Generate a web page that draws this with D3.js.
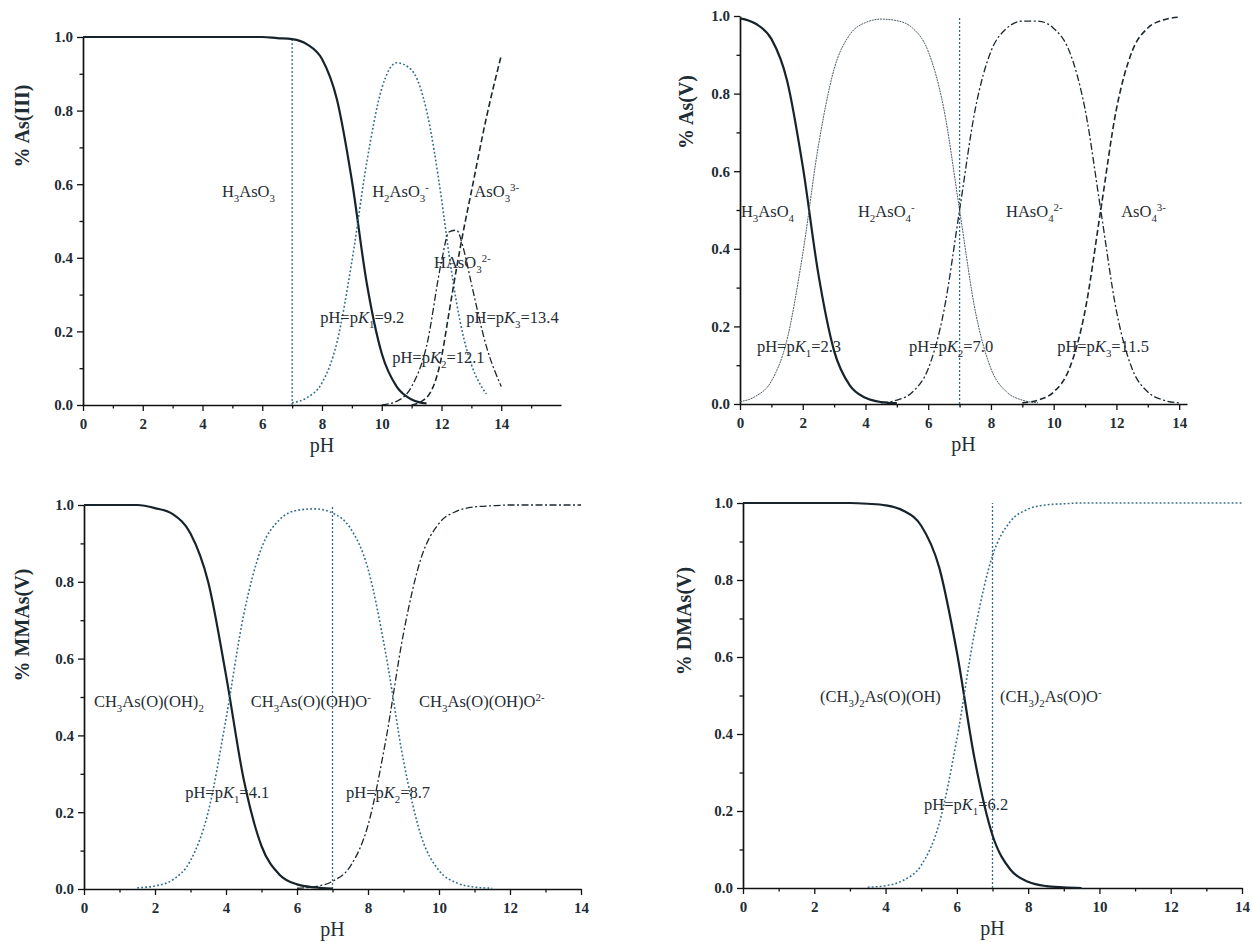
<!DOCTYPE html>
<html>
<head>
<meta charset="utf-8">
<script src="https://cdn.jsdelivr.net/npm/d3@7"></script>
<style>
  body { margin: 0; background: #fff; }
  text { font-family: "Liberation Serif", "Times New Roman", serif; fill: #1f2d35; }
</style>
</head>
<body>
<svg id="chart" width="1252" height="942"></svg>
<script>
// ---- data ----

// As(III)
const ph1 = [0, 2, 4, 6, 6.5, 7, 7.5, 8, 8.5, 9, 9.5, 10, 10.5, 11, 11.5, 12, 12.25, 12.5, 12.75, 13, 13.5, 14];
const asIII_H3AsO3 = [1, 1, 1, 1, 0.997, 0.994, 0.98, 0.94, 0.83, 0.61, 0.33, 0.14, 0.05, 0.015, 0.004, null, null, null, null, null, null, null];
const asIII_H2AsO3 = [null, null, null, null, null, 0.006, 0.02, 0.06, 0.17, 0.39, 0.66, 0.86, 0.93, 0.91, 0.80, 0.56, 0.41, 0.28, 0.18, 0.11, 0.03, null];
const asIII_HAsO3 = [null, null, null, null, null, null, null, null, null, null, null, 0.0, 0.01, 0.05, 0.16, 0.39, 0.47, 0.475, 0.42, 0.33, 0.16, 0.05];
const asIII_AsO3 = [null, null, null, null, null, null, null, null, null, null, null, null, null, 0.0, 0.02, 0.13, 0.25, 0.37, 0.48, 0.58, 0.78, 0.95];

// shared pH grid for the other three panels
const phGrid = [0, 0.5, 1, 1.5, 2, 2.5, 3, 3.5, 4, 4.5, 5, 5.5, 6, 6.5, 7, 7.5, 8, 8.5, 9, 9.5, 10, 10.5, 11, 11.5, 12, 12.5, 13, 13.5, 14];

// As(V)
const asV_H3AsO4 = [0.994, 0.98, 0.941, 0.834, 0.613, 0.334, 0.137, 0.048, 0.016, 0.005, 0.002, null, null, null, null, null, null, null, null, null, null, null, null, null, null, null, null, null, null];
const asV_H2AsO4 = [0.006, 0.02, 0.059, 0.166, 0.387, 0.666, 0.863, 0.952, 0.983, 0.992, 0.988, 0.969, 0.909, 0.76, 0.5, 0.24, 0.091, 0.031, 0.01, 0.003, null, null, null, null, null, null, null, null, null];
const asV_HAsO4 = [null, null, null, null, null, null, null, null, null, 0.003, 0.01, 0.031, 0.091, 0.24, 0.5, 0.76, 0.909, 0.968, 0.987, 0.987, 0.968, 0.909, 0.76, 0.5, 0.24, 0.091, 0.031, 0.01, 0.003];
const asV_AsO4 = [null, null, null, null, null, null, null, null, null, null, null, null, null, null, null, null, null, null, 0.003, 0.01, 0.031, 0.091, 0.24, 0.5, 0.76, 0.909, 0.969, 0.99, 0.997];

// MMAs(V)
const mmas_H2A = [1, 1, 1, 1, 0.992, 0.976, 0.926, 0.799, 0.557, 0.285, 0.112, 0.038, 0.012, 0.004, 0.001, null, null, null, null, null, null, null, null, null, null, null, null, null, null];
const mmas_HA = [null, null, null, 0.003, 0.008, 0.024, 0.074, 0.201, 0.443, 0.715, 0.888, 0.961, 0.986, 0.99, 0.979, 0.94, 0.834, 0.613, 0.334, 0.137, 0.048, 0.016, 0.005, 0.002, null, null, null, null, null];
const mmas_A = [null, null, null, null, null, null, null, null, null, null, null, null, 0.002, 0.006, 0.02, 0.059, 0.166, 0.387, 0.666, 0.863, 0.952, 0.984, 0.995, 0.998, 1, 1, 1, 1, 1];

// DMAs(V)
const dmas_HA = [1, 1, 1, 1, 1, 1, 1, 0.998, 0.994, 0.98, 0.941, 0.834, 0.613, 0.334, 0.137, 0.048, 0.016, 0.005, 0.002, 0, null, null, null, null, null, null, null, null, null];
const dmas_A = [null, null, null, null, null, null, null, 0.002, 0.006, 0.02, 0.059, 0.166, 0.387, 0.666, 0.863, 0.952, 0.984, 0.995, 0.998, 1, 1, 1, 1, 1, 1, 1, 1, 1, 1];

const refPH = 7; // dotted vertical line in every panel
const xTicks = [0, 2, 4, 6, 8, 10, 12, 14];
const yTicks = [0, 0.2, 0.4, 0.6, 0.8, 1.0];
const yMinor = [0.1, 0.3, 0.5, 0.7, 0.9];

// species labels: text, pH, fraction (baseline-left)
const notes1 = [
  ['H_{3}AsO_{3}', 4.65, 0.565], ['H_{2}AsO_{3}^{-}', 9.68, 0.565], ['AsO_{3}^{3-}', 13.1, 0.565],
  ['HAsO_{3}^{2-}', 11.75, 0.372],
  ['pH=p~{K}_{1}=9.2', 7.94, 0.223], ['pH=p~{K}_{3}=13.4', 12.83, 0.223], ['pH=p~{K}_{2}=12.1', 10.35, 0.114]
];
const notes2 = [
  ['H_{3}AsO_{4}', 0.03, 0.482], ['H_{2}AsO_{4}^{-}', 3.76, 0.482], ['HAsO_{4}^{2-}', 8.48, 0.482], ['AsO_{4}^{3-}', 12.15, 0.482],
  ['pH=p~{K}_{1}=2.3', 0.54, 0.134], ['pH=p~{K}_{2}=7.0', 5.39, 0.134], ['pH=p~{K}_{3}=11.5', 10.11, 0.134]
];
const notes3 = [
  ['CH_{3}As(O)(OH)_{2}', 0.28, 0.474], ['CH_{3}As(O)(OH)O^{-}', 4.7, 0.474], ['CH_{3}As(O)(OH)O^{2-}', 9.44, 0.474],
  ['pH=p~{K}_{1}=4.1', 2.85, 0.237], ['pH=p~{K}_{2}=8.7', 7.38, 0.237]
];
const notes4 = [
  ['(CH_{3})_{2}As(O)(OH)', 2.16, 0.483], ['(CH_{3})_{2}As(O)O^{-}', 7.21, 0.483],
  ['pH=p~{K}_{1}=6.2', 5.08, 0.203]
];

// ---- styles ----
const styles = {
  solid:   { stroke: '#17232a', width: 2.2, dash: null },
  dot:     { stroke: '#2e6c8b', width: 1.6, dash: '1.8,2.2' },
  thin:    { stroke: '#4c5c66', width: 1.0, dash: '2,0.8' },
  dash:    { stroke: '#1c282e', width: 1.6, dash: '6,3' },
  dashdot: { stroke: '#1c282e', width: 1.3, dash: '7,2.5,2,2.5' }
};

const panels = [
  { ph: ph1, left: 83, right: 561, top: 37, bottom: 405, xMax: 16, minorMax: 15,
    yTitle: '% As(III)', yTitlePos: [22, 126], notes: notes1,
    series: [[asIII_H3AsO3, 'solid'], [asIII_H2AsO3, 'dot'], [asIII_HAsO3, 'dashdot'], [asIII_AsO3, 'dash']] },
  { ph: phGrid, left: 740, right: 1187, top: 16, bottom: 404, xMax: 14.25, minorMax: 13,
    yTitle: '% As(V)', yTitlePos: [686, 112], notes: notes2,
    series: [[asV_H3AsO4, 'solid'], [asV_H2AsO4, 'thin'], [asV_HAsO4, 'dashdot'], [asV_AsO4, 'dash']] },
  { ph: phGrid, left: 84, right: 581, top: 505, bottom: 889, xMax: 14, minorMax: 13,
    yTitle: '% MMAs(V)', yTitlePos: [22, 625], notes: notes3,
    series: [[mmas_H2A, 'solid'], [mmas_HA, 'dot'], [mmas_A, 'dashdot']] },
  { ph: phGrid, left: 743, right: 1242, top: 503, bottom: 888, xMax: 14, minorMax: 13,
    yTitle: '% DMAs(V)', yTitlePos: [684, 621], notes: notes4,
    series: [[dmas_HA, 'solid'], [dmas_A, 'dot']] }
];

const svg = d3.select('#chart');
svg.append('rect').attr('width', 1252).attr('height', 942).attr('fill', '#fff');

// write a label with sub/superscripts: _{..} sub, ^{..} sup, ~{..} italic
function richText(textSel, str, fs) {
  const parts = str.match(/_\{[^}]*\}|\^\{[^}]*\}|~\{[^}]*\}|[^_^~]+/g);
  let cur = 0;
  parts.forEach(p => {
    let kind = '', t = p;
    if (p[0] === '_' || p[0] === '^' || p[0] === '~') { kind = p[0]; t = p.slice(2, -1); }
    const target = kind === '_' ? fs * 0.32 : kind === '^' ? -fs * 0.38 : 0;
    const ts = textSel.append('tspan').text(t).attr('dy', target - cur);
    if (kind === '_' || kind === '^') ts.attr('font-size', fs * 0.66);
    if (kind === '~') ts.attr('font-style', 'italic');
    cur = target;
  });
}

panels.forEach(p => {
  const g = svg.append('g');
  const x = d3.scaleLinear().domain([0, p.xMax]).range([p.left, p.right]);
  const y = d3.scaleLinear().domain([0, 1]).range([p.bottom, p.top]);

  const xMinor = d3.range(1, p.minorMax + 1, 2);

  // minor ticks
  g.append('g').attr('transform', `translate(0,${p.bottom})`)
    .call(d3.axisBottom(x).tickValues(xMinor).tickSize(3.5).tickFormat('').tickSizeOuter(0))
    .call(a => a.select('.domain').remove());
  g.append('g').attr('transform', `translate(${p.left},0)`)
    .call(d3.axisLeft(y).tickValues(yMinor).tickSize(3.5).tickFormat('').tickSizeOuter(0))
    .call(a => a.select('.domain').remove());

  // major axes
  const xa = g.append('g').attr('transform', `translate(0,${p.bottom})`)
    .call(d3.axisBottom(x).tickValues(xTicks).tickSize(6).tickSizeOuter(0).tickFormat(d3.format('d')));
  const ya = g.append('g').attr('transform', `translate(${p.left},0)`)
    .call(d3.axisLeft(y).tickValues(yTicks).tickSize(6).tickPadding(4).tickSizeOuter(0).tickFormat(d3.format('.1f')));

  xa.selectAll('.tick text').attr('y', 24).attr('dy', 0);
  [xa, ya].forEach(a => {
    a.select('.domain').attr('stroke', '#111').attr('stroke-width', 1.7);
    a.selectAll('.tick text').attr('font-size', 15).attr('font-weight', 'bold')
      .attr('font-family', '"Liberation Serif", serif').attr('fill', '#1f2d35');
  });
  g.selectAll('.tick line').attr('stroke', '#111').attr('stroke-width', 1.3);

  // reference line at pH 7
  g.append('line')
    .attr('x1', x(refPH)).attr('x2', x(refPH))
    .attr('y1', y(0)).attr('y2', y(1))
    .attr('stroke', '#2e6c8b').attr('stroke-width', 1.3).attr('stroke-dasharray', '2,2');

  // species curves
  const line = d3.line()
    .defined(d => d[1] != null)
    .x(d => x(d[0])).y(d => y(d[1]))
    .curve(d3.curveMonotoneX);

  p.series.forEach(([vals, sty]) => {
    const s = styles[sty];
    const pts = p.ph.map((ph, i) => [ph, vals[i]]);
    g.append('path').datum(pts)
      .attr('d', line)
      .attr('fill', 'none')
      .attr('stroke', s.stroke)
      .attr('stroke-width', s.width)
      .attr('stroke-dasharray', s.dash);
  });

  // labels
  p.notes.forEach(([t, ph, v]) => {
    const tx = g.append('text').attr('x', x(ph)).attr('y', y(v)).attr('font-size', 16.5);
    richText(tx, t, 16.5);
  });

  // axis titles
  g.append('text')
    .attr('x', (p.left + p.right) / 2).attr('y', p.bottom + 47)
    .attr('text-anchor', 'middle').attr('font-size', 20)
    .text('pH');
  g.append('text')
    .attr('transform', `translate(${p.yTitlePos[0]},${p.yTitlePos[1]}) rotate(-90)`)
    .attr('text-anchor', 'middle').attr('dominant-baseline', 'central')
    .attr('font-size', 20).attr('font-weight', 'bold')
    .text(p.yTitle);
});
</script>
</body>
</html>
